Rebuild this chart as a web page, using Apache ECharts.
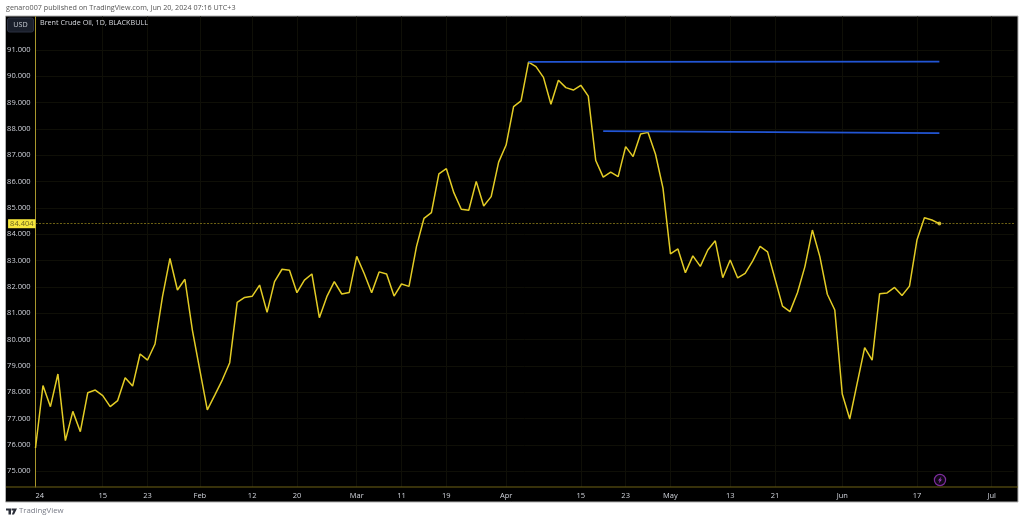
<!DOCTYPE html>
<html>
<head>
<meta charset="utf-8">
<style>html,body{margin:0;padding:0;background:#fff}#c{width:1024px;height:522px}</style>
<script src="https://cdn.jsdelivr.net/npm/echarts@6/dist/echarts.min.js"></script>
</head>
<body>
<div id="c"></div>
<script>
const prices = [75.88,78.25,77.45,78.69,76.16,77.27,76.5,77.98,78.08,77.87,77.45,77.68,78.55,78.23,79.45,79.22,79.83,81.63,83.08,81.88,
82.29,80.36,78.84,77.33,77.89,78.46,79.12,81.41,81.6,81.64,82.07,81.03,82.2,82.67,82.63,81.78,82.26,82.49,80.83,81.63,
82.2,81.73,81.79,83.16,82.51,81.78,82.57,82.49,81.65,82.11,82.02,83.53,84.6,84.82,86.29,86.49,85.58,84.95,84.91,86.01,
85.07,85.43,86.74,87.39,88.85,89.07,90.54,90.37,89.96,88.94,89.85,89.57,89.48,89.66,89.25,86.8,86.17,86.36,86.19,87.33,
86.95,87.81,87.87,87.04,85.75,83.25,83.44,82.54,83.18,82.78,83.4,83.75,82.35,83.02,82.34,82.51,82.98,83.54,83.33,82.3,
81.27,81.06,81.78,82.77,84.16,83.15,81.72,81.12,77.93,76.98,78.34,79.69,79.22,81.74,81.77,81.98,81.67,82.03,83.78,84.63,
84.54,84.404];
const slotCount = 132;
const xTickIndex = [0,9,15,22,29,35,43,49,55,63,73,79,85,93,99,108,118,128];
const xTickLabels = ['24','15','23','Feb','12','20','Mar','11','19','Apr','15','23','May','13','21','Jun','17','Jul'];
const yTicks = [75,76,77,78,79,80,81,82,83,84,85,86,87,88,89,90,91];
const lastPrice = 84.404;
const resistanceA = [[66,90.55],[121,90.56]];
const resistanceB = [[76,87.92],[121,87.84]];
const headerText = 'genaro007 published on TradingView.com, Jun 20, 2024 07:16 UTC+3';
const titleText = 'Brent Crude Oil, 1D, BLACKBULL';

const categories = Array.from({length: slotCount}, () => '');
xTickIndex.forEach((p, i) => { categories[p] = xTickLabels[i]; });
const isTick = i => xTickIndex.includes(i);
const FONT = '"Open Sans", sans-serif';

const chart = echarts.init(document.getElementById('c'), null, {renderer: 'canvas'});
chart.setOption({
  animation: false,
  backgroundColor: '#ffffff',
  grid: {left: 35.5, top: 16.5, width: 978.57, height: 470.5, containLabel: false},
  xAxis: {
    type: 'category', data: categories, boundaryGap: false,
    axisLine: {show: false}, axisTick: {show: false},
    axisLabel: {interval: (i) => isTick(i), color: '#d1d4dc', fontSize: 7.5, fontFamily: FONT, margin: 5,
      hideOverlap: false, alignMinLabel: 'left'},
    splitLine: {show: true, interval: (i) => isTick(i), lineStyle: {color: '#0f0f07', width: 1}}
  },
  yAxis: {
    type: 'value', min: 74.397, max: 92.273,
    axisLine: {show: true, onZero: false, lineStyle: {color: '#a8962c', width: 1}},
    axisTick: {show: false, customValues: yTicks},
    axisLabel: {customValues: yTicks, formatter: v => v.toFixed(3), color: '#d1d4dc', fontSize: 7.5, fontFamily: FONT, margin: 5, showMinLabel: true, showMaxLabel: true},
    splitLine: {show: true, lineStyle: {color: '#0f0f07', width: 1}}
  },
  series: [
    {type: 'line', data: prices, symbol: 'none', silent: true, z: 3,
     lineStyle: {color: '#e3cc25', width: 1.5},
     markLine: {silent: true, symbol: 'none', animation: false, z: 2,
       lineStyle: {color: '#6e6214', type: [2, 1.5], width: 1},
       label: {show: true, position: 'start', distance: 0, formatter: () => lastPrice.toFixed(3), color: '#6b6320', fontSize: 7.5, fontFamily: FONT,
         backgroundColor: '#f5e63c', padding: [1, 2, 0, 2]},
       data: [{yAxis: lastPrice}]}},
    {type: 'line', data: resistanceA, symbol: 'none', silent: true, z: 4, lineStyle: {color: '#2255d4', width: 1.7}},
    {type: 'line', data: resistanceB, symbol: 'none', silent: true, z: 4, lineStyle: {color: '#2255d4', width: 1.7}},
    {type: 'scatter', data: [[prices.length - 1, lastPrice]], symbolSize: 4, silent: true, z: 5, itemStyle: {color: '#f2dc3c'}}
  ],
  graphic: {elements: [
    {type: 'rect', z: -10, silent: true, shape: {x: 5.5, y: 16, width: 1012.5, height: 486}, style: {fill: '#000', stroke: '#b0b0b0', lineWidth: 1}},
    {type: 'line', z: 10, silent: true, shape: {x1: 6, y1: 487, x2: 1018, y2: 487}, style: {stroke: '#6e6214', lineWidth: 1}},
    {type: 'text', z: 10, silent: true, x: 6, y: 4, style: {text: headerText, fill: '#555', font: '7.2px ' + FONT}},
    {type: 'text', z: 10, silent: true, x: 40, y: 19, style: {text: titleText, fill: '#d8dae0', font: '7.2px ' + FONT}},
    {type: 'rect', z: 10, silent: true, shape: {x: 7.5, y: 18, width: 26, height: 14, r: 2}, style: {fill: '#1a1f2b', stroke: '#2a3040', lineWidth: 1}},
    {type: 'text', z: 11, silent: true, x: 20.5, y: 25, style: {text: 'USD', fill: '#c4c8d0', font: '7.2px ' + FONT, align: 'center', verticalAlign: 'middle'}},
    {type: 'circle', z: 10, silent: true, shape: {cx: 940, cy: 480, r: 5.6}, style: {fill: '#120818', stroke: '#7d2d9c', lineWidth: 1.2}},
    {type: 'polygon', z: 11, silent: true, shape: {points: [[941.5,476.5],[938,480.5],[939.8,480.5],[938.6,483.5],[942,479.5],[940.2,479.5]]}, style: {fill: '#a040c8'}},
    {type: 'polygon', z: 10, silent: true, shape: {points: [[6,508.5],[11,508.5],[11,514.5],[8.5,514.5],[8.5,510.5],[6,510.5]]}, style: {fill: '#2a2e39'}},
    {type: 'polygon', z: 10, silent: true, shape: {points: [[11.5,508.5],[17,508.5],[14,514.5],[11.8,514.5],[13.5,510.5],[11.5,510.5]]}, style: {fill: '#2a2e39'}},
    {type: 'text', z: 10, silent: true, x: 19, y: 507, style: {text: 'TradingView', fill: '#787b86', font: '7.8px ' + FONT}}
  ]}
});
</script>
</body>
</html>
